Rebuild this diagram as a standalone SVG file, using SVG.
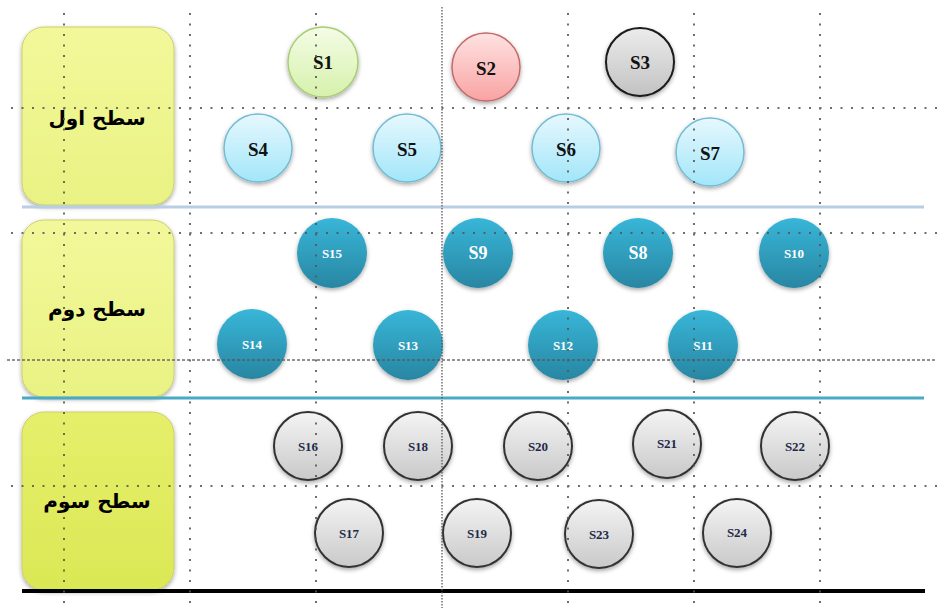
<svg xmlns="http://www.w3.org/2000/svg" width="937" height="608" viewBox="0 0 937 608">
<defs>
<linearGradient id="gYel1" x1="0" y1="0" x2="0" y2="1"><stop offset="0" stop-color="#f2f89a"/><stop offset="1" stop-color="#e9f283"/></linearGradient>
<linearGradient id="gYel3" x1="0" y1="0" x2="0" y2="1"><stop offset="0" stop-color="#e6ef6a"/><stop offset="1" stop-color="#dbe855"/></linearGradient>
<linearGradient id="gGreen" x1="0" y1="0" x2="0" y2="1"><stop offset="0" stop-color="#f4fce6"/><stop offset="1" stop-color="#d6f1ac"/></linearGradient>
<linearGradient id="gRed" x1="0" y1="0" x2="0" y2="1"><stop offset="0" stop-color="#ffe2e2"/><stop offset="1" stop-color="#f9a3a3"/></linearGradient>
<linearGradient id="gDark" x1="0" y1="0" x2="0" y2="1"><stop offset="0" stop-color="#ececec"/><stop offset="1" stop-color="#c2c2c2"/></linearGradient>
<linearGradient id="gLight" x1="0" y1="0" x2="0" y2="1"><stop offset="0" stop-color="#e6f8fd"/><stop offset="1" stop-color="#a2e6fa"/></linearGradient>
<linearGradient id="gTeal" x1="0" y1="0" x2="0" y2="1"><stop offset="0" stop-color="#38b6d8"/><stop offset="1" stop-color="#2886a2"/></linearGradient>
<linearGradient id="gGray" x1="0" y1="0" x2="0" y2="1"><stop offset="0" stop-color="#f4f4f4"/><stop offset="1" stop-color="#c9c9c9"/></linearGradient>
<filter id="sh" x="-30%" y="-30%" width="160%" height="170%"><feDropShadow dx="0" dy="2" stdDeviation="2" flood-color="#000" flood-opacity="0.35"/></filter>
</defs>
<style>
.box{stroke:#c9d06a;stroke-width:1;filter:url(#sh)}
.lvl{font-family:"DejaVu Sans",sans-serif;font-weight:bold;font-size:20px;fill:#000;text-anchor:middle}
.c{filter:url(#sh)}
.green{fill:url(#gGreen);stroke:#a9cd73;stroke-width:1.5}
.red{fill:url(#gRed);stroke:#c46a6a;stroke-width:1.5}
.dark{fill:url(#gDark);stroke:#1a1a1a;stroke-width:2}
.light{fill:url(#gLight);stroke:#74bcd2;stroke-width:1.5}
.teal{fill:url(#gTeal);stroke:none}
.gray{fill:url(#gGray);stroke:#333;stroke-width:2}
.t{font-family:"Liberation Serif",serif;font-weight:bold;text-anchor:middle;dominant-baseline:central}
.big{font-size:19px;fill:#111}
.w{fill:#fff}
.wb{font-size:18px}
.ws{font-size:13px}
.g{font-size:13px;fill:#1e2a4a}
.dot{stroke:#555;stroke-width:2;stroke-dasharray:2 8.5;fill:none}
</style>
<g id="levels">
<g id="level1"><rect class="box" x="22" y="27" width="152" height="178" rx="22" fill="url(#gYel1)"/><text class="lvl" x="97" y="125">سطح اول</text></g>
<g id="level2"><rect class="box" x="22" y="220" width="152" height="177" rx="22" fill="url(#gYel1)"/><text class="lvl" x="97" y="316">سطح دوم</text></g>
<g id="level3"><rect class="box" x="22" y="412" width="152" height="178" rx="22" fill="url(#gYel3)"/><text class="lvl" x="97" y="508">سطح سوم</text></g>
</g>
<g id="separators">
<line x1="22" y1="207" x2="924" y2="207" stroke="#b9cde4" stroke-width="3"/>
<line x1="22" y1="398" x2="924" y2="398" stroke="#4aaac6" stroke-width="3"/>
<line x1="22" y1="591" x2="925" y2="591" stroke="#000" stroke-width="4"/>
</g>
<g id="connectors"></g>
<g id="S1"><circle class="c green" cx="323" cy="62" r="35"/><text class="t big" x="323" y="62">S1</text></g>
<g id="S2"><circle class="c red" cx="486" cy="67" r="34"/><text class="t big" x="486" y="68">S2</text></g>
<g id="S3"><circle class="c dark" cx="640" cy="62" r="34"/><text class="t big" x="640" y="62">S3</text></g>
<g id="S4"><circle class="c light" cx="258" cy="148" r="34"/><text class="t big" x="258" y="149">S4</text></g>
<g id="S5"><circle class="c light" cx="407" cy="148" r="34"/><text class="t big" x="407" y="149">S5</text></g>
<g id="S6"><circle class="c light" cx="566" cy="148" r="34"/><text class="t big" x="566" y="149">S6</text></g>
<g id="S7"><circle class="c light" cx="710" cy="152" r="34"/><text class="t big" x="710" y="153">S7</text></g>
<g id="S15"><circle class="c teal" cx="332" cy="253" r="35"/><text class="t w ws" x="332" y="253">S15</text></g>
<g id="S9"><circle class="c teal" cx="478" cy="253" r="35"/><text class="t w wb" x="478" y="253">S9</text></g>
<g id="S8"><circle class="c teal" cx="638" cy="253" r="35"/><text class="t w wb" x="638" y="253">S8</text></g>
<g id="S10"><circle class="c teal" cx="794" cy="253" r="35"/><text class="t w ws" x="794" y="253">S10</text></g>
<g id="S14"><circle class="c teal" cx="252" cy="344" r="35"/><text class="t w ws" x="252" y="344">S14</text></g>
<g id="S13"><circle class="c teal" cx="408" cy="345" r="35"/><text class="t w ws" x="408" y="345">S13</text></g>
<g id="S12"><circle class="c teal" cx="563" cy="345" r="35"/><text class="t w ws" x="563" y="345">S12</text></g>
<g id="S11"><circle class="c teal" cx="703" cy="345" r="35"/><text class="t w ws" x="703" y="345">S11</text></g>
<g id="S16"><circle class="c gray" cx="308" cy="446" r="34"/><text class="t g" x="308" y="446">S16</text></g>
<g id="S18"><circle class="c gray" cx="418" cy="446" r="34"/><text class="t g" x="418" y="446">S18</text></g>
<g id="S20"><circle class="c gray" cx="538" cy="446" r="34"/><text class="t g" x="538" y="446">S20</text></g>
<g id="S21"><circle class="c gray" cx="667" cy="444" r="34"/><text class="t g" x="667" y="443">S21</text></g>
<g id="S22"><circle class="c gray" cx="795" cy="446" r="34"/><text class="t g" x="795" y="446">S22</text></g>
<g id="S17"><circle class="c gray" cx="349" cy="533" r="34"/><text class="t g" x="349" y="533">S17</text></g>
<g id="S19"><circle class="c gray" cx="477" cy="533" r="34"/><text class="t g" x="477" y="533">S19</text></g>
<g id="S23"><circle class="c gray" cx="599" cy="534" r="34"/><text class="t g" x="599" y="534">S23</text></g>
<g id="S24"><circle class="c gray" cx="737" cy="533" r="34"/><text class="t g" x="737" y="532">S24</text></g>
<g id="grid" opacity="0.85">
<line class="dot" x1="11" y1="108" x2="937" y2="108"/>
<line class="dot" x1="11" y1="233" x2="937" y2="233"/>
<line x1="7" y1="360" x2="937" y2="360" stroke="#555" stroke-width="1.5" stroke-dasharray="3 2"/>
<line class="dot" x1="11" y1="486" x2="937" y2="486"/>
<line class="dot" x1="64" y1="13" x2="64" y2="608"/>
<line class="dot" x1="190" y1="13" x2="190" y2="608"/>
<line class="dot" x1="316" y1="13" x2="316" y2="608"/>
<line x1="442" y1="7" x2="442" y2="608" stroke="#555" stroke-width="1.5" stroke-dasharray="1.5 1.5"/>
<line class="dot" x1="568" y1="13" x2="568" y2="608"/>
<line class="dot" x1="694" y1="13" x2="694" y2="608"/>
<line class="dot" x1="820" y1="13" x2="820" y2="608"/>
</g>
</svg>
